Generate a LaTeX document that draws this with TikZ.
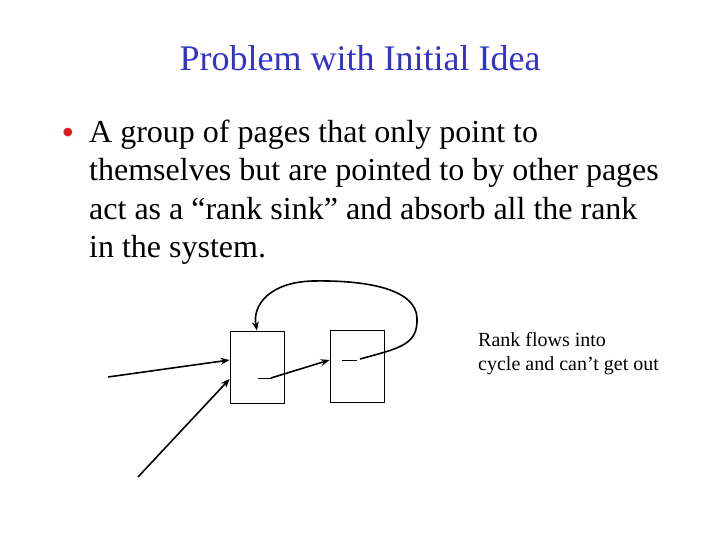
\documentclass[tikz,border=0pt]{standalone}
\usepackage{fontspec}
\setmainfont{Liberation Serif}
\usetikzlibrary{arrows.meta}
\definecolor{titleblue}{RGB}{51,51,204}
\definecolor{bulletred}{RGB}{220,30,30}
\begin{document}
\begin{tikzpicture}[x=1pt,y=-1pt,
  page/.style={draw,line width=0.8pt,minimum width=54pt,minimum height=72pt,inner sep=0pt},
  link/.style={line width=1.6pt,-{Stealth[length=9pt,width=7pt]}},
  plain/.style={line width=1pt},
  txt/.style={anchor=base west,inner sep=0pt}]
\useasboundingbox (0,0) rectangle (720,540);
% title
\node[anchor=base,inner sep=0pt,text=titleblue,font=\fontsize{36}{40}\selectfont] (title) at (360,71) {Problem with Initial Idea};
% bullet
\node[anchor=center,inner sep=0pt,text=bulletred,font=\fontsize{36}{40}\selectfont] (bul) at (68,136) {•};
\node[txt,font=\fontsize{32}{36}\selectfont] (l1) at (89,143) {A group of pages that only point to};
\node[txt,font=\fontsize{32}{36}\selectfont] (l2) at (89,181) {themselves but are pointed to by other pages};
\node[txt,font=\fontsize{32}{36}\selectfont] (l3) at (89,219) {act as a “rank sink” and absorb all the rank};
\node[txt,font=\fontsize{32}{36}\selectfont] (l4) at (89,257) {in the system.};
% pages
\node[page] (p1) at (257,367) {};
\node[page] (p2) at (357,366) {};
% annotation
\node[txt,font=\fontsize{20}{24}\selectfont] (n1) at (478,346) {Rank flows into};
\node[txt,font=\fontsize{20}{24}\selectfont] (n2) at (478,370) {cycle and can’t get out};
% connector points
\coordinate (a1) at (108,377);
\coordinate (a2) at (138,477);
\coordinate (d1s) at (258,378);
\coordinate (d1e) at (271,378);
\coordinate (d2s) at (342,360);
\coordinate (d2e) at (357,360);
\coordinate (c0) at (360,359);
% edges
\draw[link] (a1) -- (p1.west |- 0,360);
\draw[link] (a2) -- (p1.west |- 0,379);
\draw[plain] (d1s) -- (d1e);
\draw[link] (d1e) -- (p2.west |- 0,360);
\draw[plain] (d2s) -- (d2e);
\draw[link] (c0) .. controls (400,348) and (418,345) .. (417,318)
  .. controls (416,290) and (370,280) .. (313,281)
  .. controls (270,282) and (252,305) .. (p1.north);
\end{tikzpicture}
\end{document}
